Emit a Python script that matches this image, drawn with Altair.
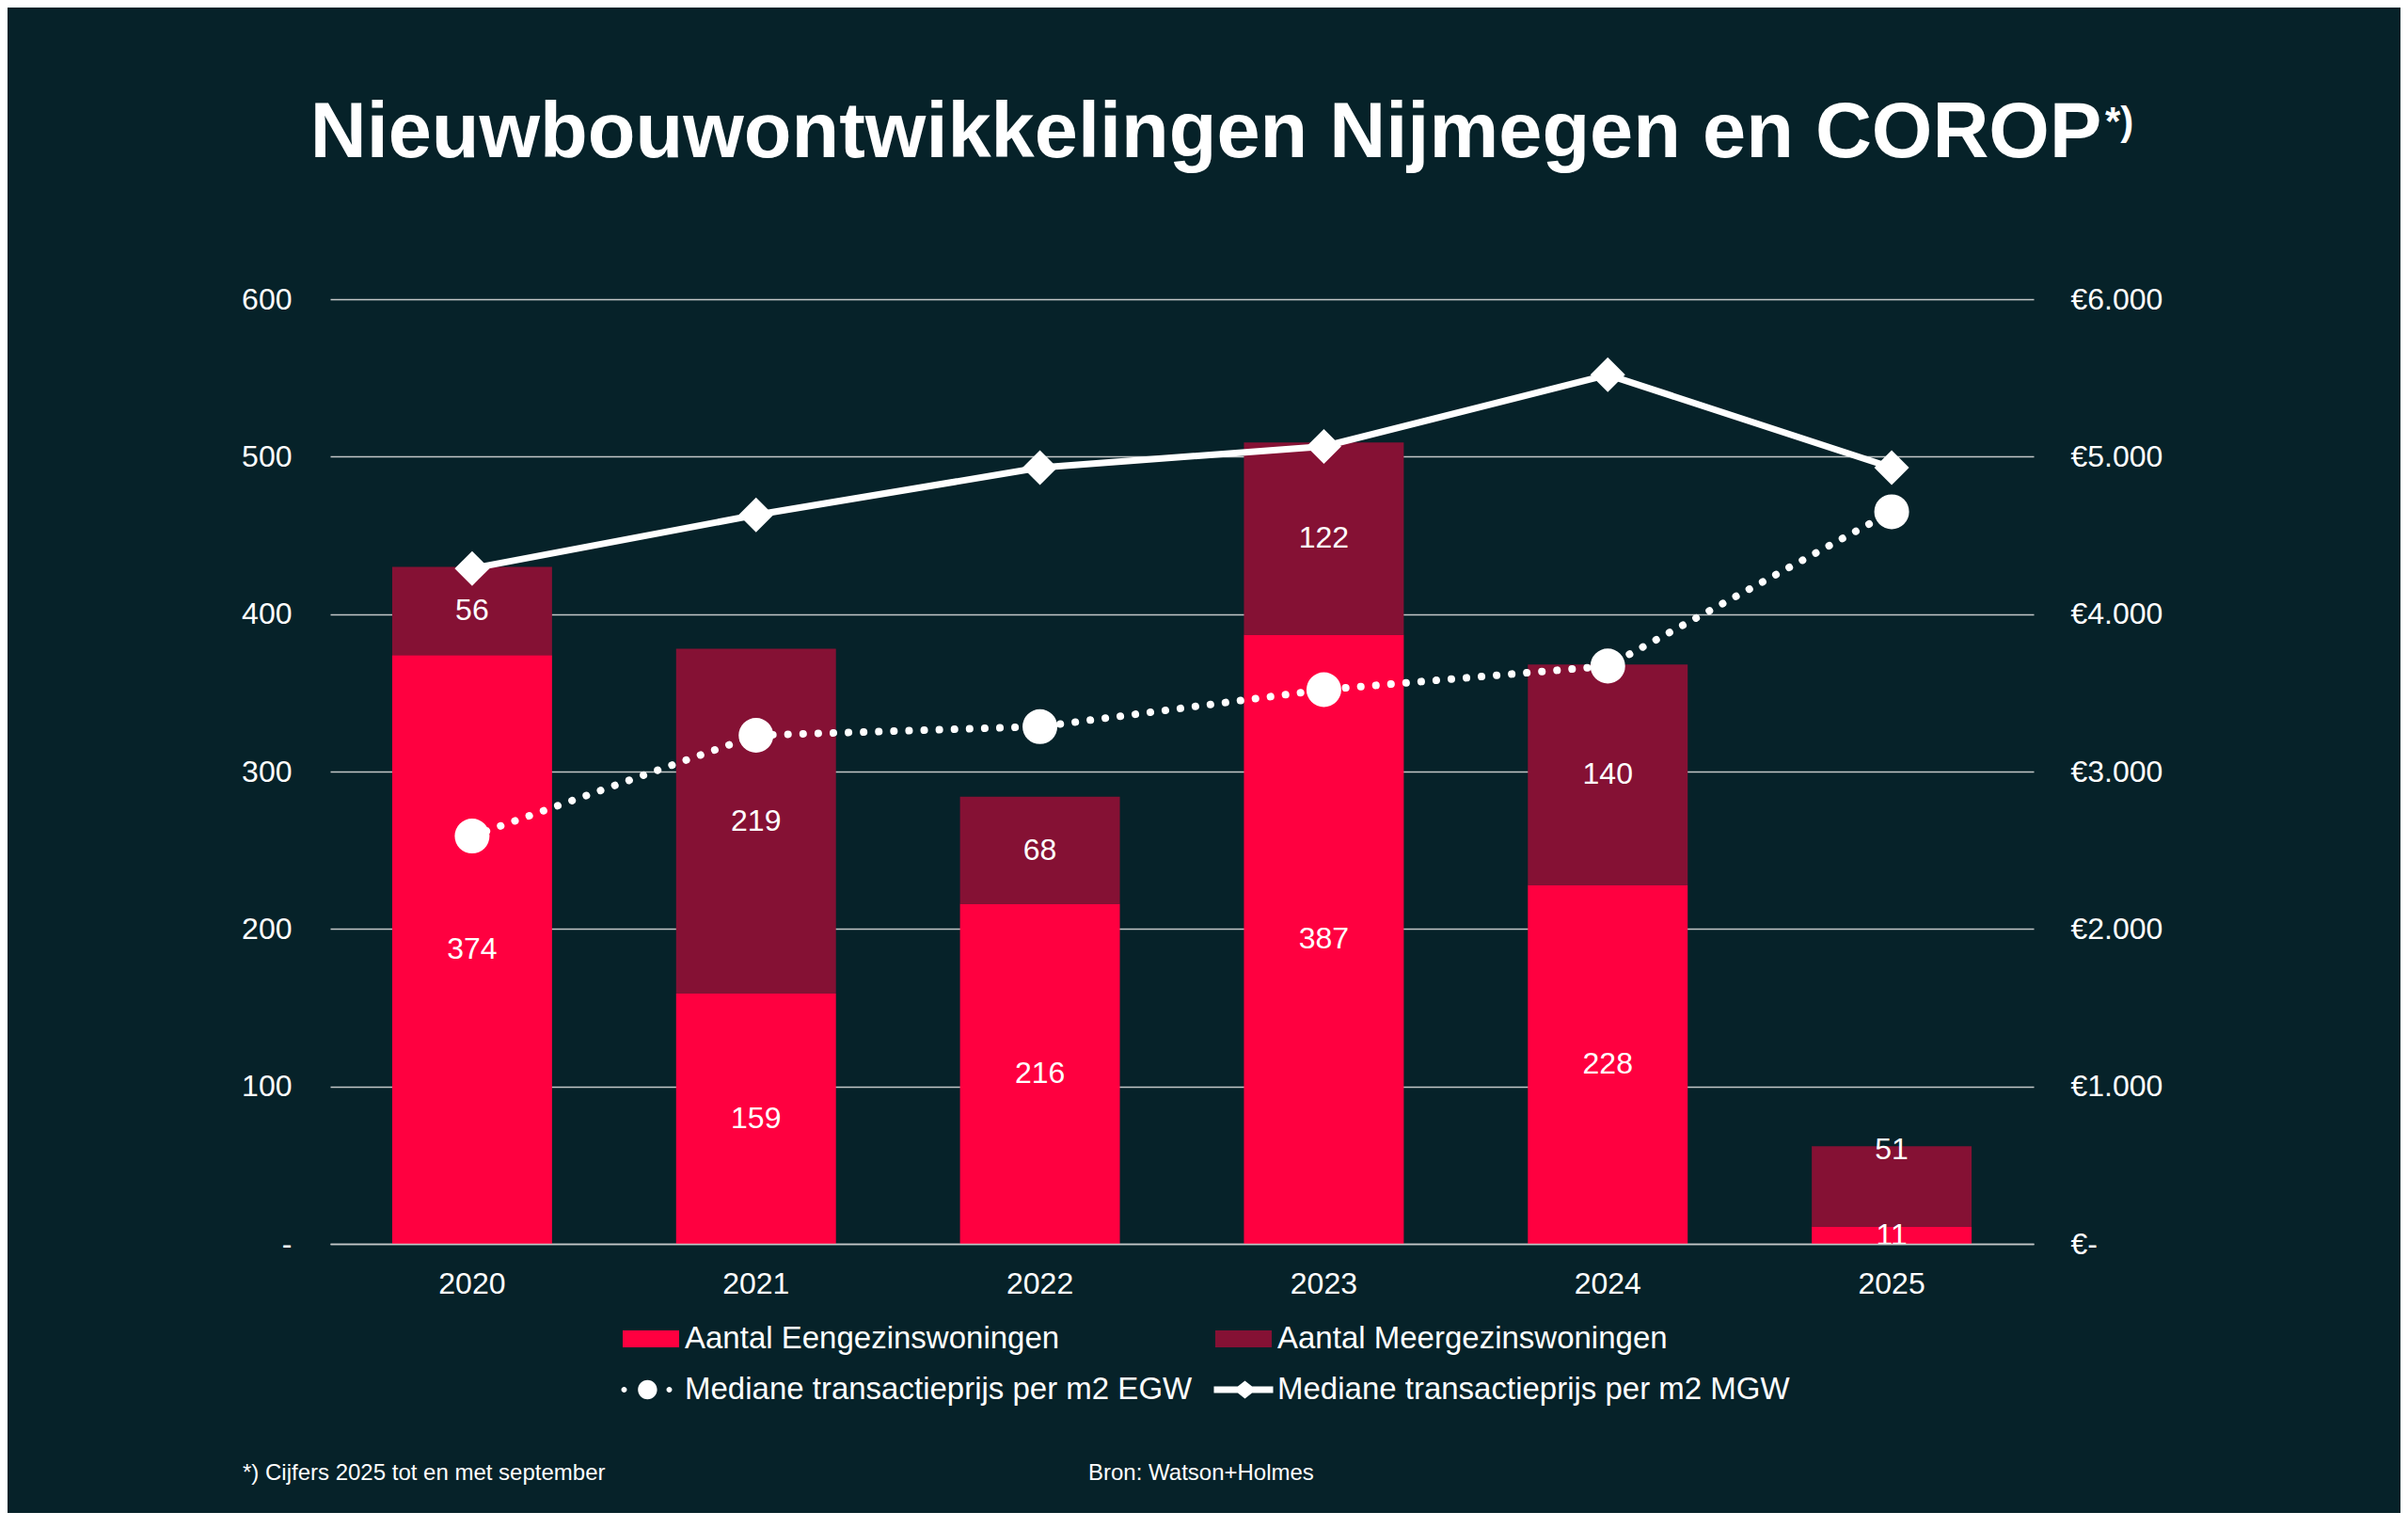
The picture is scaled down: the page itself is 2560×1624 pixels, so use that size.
import altair as alt
import pandas as pd

# ---------------- data ----------------
years = ["2020", "2021", "2022", "2023", "2024", "2025"]
egw_count = [374, 159, 216, 387, 228, 11]
mgw_count = [56, 219, 68, 122, 140, 51]
egw_price = [2590, 3230, 3285, 3520, 3670, 4650]
mgw_price = [4290, 4630, 4930, 5065, 5520, 4930]

series_names = [
    "Aantal Eengezinswoningen",
    "Aantal Meergezinswoningen",
    "Mediane transactieprijs per m2 EGW",
    "Mediane transactieprijs per m2 MGW",
]
left_ticks = [0, 100, 200, 300, 400, 500, 600]
right_ticks = [0, 1000, 2000, 3000, 4000, 5000, 6000]

title_text = "Nieuwbouwontwikkelingen Nijmegen en COROP"
title_sup = "*)"
footnote_text = "*) Cijfers 2025 tot en met september"
source_text = "Bron: Watson+Holmes"

# ---------------- style ----------------
BG = "#062229"
RED = "#FF0040"
DARK = "#851134"
WHITE = "#FFFFFF"
GRID = "#c3c7c8"
FONT = "Liberation Sans"

legend_colors = [RED, DARK, WHITE, WHITE]
# custom legend symbols (unit coords, symbol spans -1..1)
rect_path = "M-1,-0.3L1,-0.3L1,0.3L-1,0.3Z"


def circ(cx, r):
    return (f"M{cx - r},0A{r},{r} 0 1,1 {cx + r},0A{r},{r} 0 1,1 {cx - r},0Z")


egw_path = circ(-0.95, 0.1) + circ(-0.12, 0.34) + circ(0.65, 0.1)
mgw_path = ("M-1.05,-0.12L1.05,-0.12L1.05,0.12L-1.05,0.12Z"
            "M0.05,-0.32L0.45,0L0.05,0.32L-0.35,0Z")
legend_shapes = [rect_path, rect_path, egw_path, mgw_path]

W, H = 1811, 1004

# ---------------- tables ----------------
e_df = pd.DataFrame({"year": years, "start": [0] * 6, "end": egw_count})
m_df = pd.DataFrame({
    "year": years,
    "start": egw_count,
    "end": [e + m for e, m in zip(egw_count, mgw_count)],
})
lab_df = pd.DataFrame({
    "year": years * 2,
    "label": [str(v) for v in egw_count] + [str(v) for v in mgw_count],
    "pos": [e / 2 for e in egw_count]
    + [(e + m / 2) if e >= 20 else (e + m - 2.5) for e, m in zip(egw_count, mgw_count)],
})
price_df = pd.DataFrame({"year": years, "egw": egw_price, "mgw": mgw_price})
legend_df = pd.DataFrame({"serie": series_names})

xscale = alt.Scale(type="band", paddingInner=0.437, paddingOuter=0.2185)
x_axis = alt.Axis(
    title=None, labelFontSize=32, labelColor=WHITE, labelFont=FONT, ticks=False,
    tickSize=0, domain=True, domainColor=GRID, domainWidth=1.5, labelPadding=27,
    labelAngle=0, grid=False, zindex=1,
)
X = alt.X("year:N", scale=xscale, axis=x_axis, sort=years)

yl_scale = alt.Scale(domain=[0, 600], nice=False)
yl_axis = alt.Axis(
    title=None, values=left_ticks, orient="left", grid=True, gridColor=GRID,
    gridWidth=1.5, gridOpacity=1, ticks=False, tickSize=0, domain=False,
    labelFontSize=32, labelColor=WHITE, labelFont=FONT, labelPadding=41,
    labelExpr="datum.value == 0 ? '-\u2007\u2007' : format(datum.value, 'd')",
)
yr_scale = alt.Scale(domain=[0, 6000], nice=False)
yr_axis = alt.Axis(
    title=None, values=right_ticks, orient="right", grid=False, ticks=False,
    tickSize=0, domain=False, labelFontSize=32, labelColor=WHITE, labelFont=FONT,
    labelPadding=39, labelAlign="left",
    labelExpr="datum.value == 0 ? '€-' : '€' + replace(format(datum.value, ',d'), ',', '.')",
)

bars_e = alt.Chart(e_df).mark_bar(color=RED).encode(
    x=X, y=alt.Y("start:Q", scale=yl_scale, axis=yl_axis), y2="end:Q")
bars_m = alt.Chart(m_df).mark_bar(color=DARK).encode(
    x=X, y=alt.Y("start:Q", scale=yl_scale, axis=yl_axis), y2="end:Q")
bar_labels = alt.Chart(lab_df).mark_text(
    color=WHITE, fontSize=32, font=FONT, align="center", baseline="middle"
).encode(x=X, y=alt.Y("pos:Q", scale=yl_scale, axis=yl_axis), text="label:N")

count_layer = alt.layer(bars_e, bars_m, bar_labels)

mgw_line = alt.Chart(price_df).mark_line(color=WHITE, strokeWidth=7).encode(
    x=X, y=alt.Y("mgw:Q", scale=yr_scale, axis=yr_axis))
mgw_pts = alt.Chart(price_df).mark_point(
    shape="diamond", filled=True, size=1370, opacity=1, color=WHITE, strokeWidth=0
).encode(x=X, y=alt.Y("mgw:Q", scale=yr_scale, axis=yr_axis))
egw_line = alt.Chart(price_df).mark_line(
    color=WHITE, strokeWidth=8, strokeDash=[0.1, 16], strokeCap="round"
).encode(x=X, y=alt.Y("egw:Q", scale=yr_scale, axis=yr_axis))
egw_pts = alt.Chart(price_df).mark_point(
    shape="circle", filled=True, size=1370, opacity=1, color=WHITE, strokeWidth=0
).encode(x=X, y=alt.Y("egw:Q", scale=yr_scale, axis=yr_axis))

price_layer = alt.layer(mgw_line, egw_line, mgw_pts, egw_pts)

leg = dict(
    title=None, orient="none", legendX=311, legendY=1075, direction="horizontal",
    columns=2, labelFontSize=33, labelColor=WHITE, labelFont=FONT, labelLimit=1200,
    labelOffset=6, symbolSize=3600, symbolStrokeWidth=0, symbolOpacity=1,
    rowPadding=7, columnPadding=22, padding=0,
)
legend_layer = alt.Chart(legend_df).transform_filter("false").mark_point(
    filled=True, opacity=1, size=3600, strokeWidth=0
).encode(
    color=alt.Color("serie:N", scale=alt.Scale(domain=series_names, range=legend_colors),
                    legend=alt.Legend(**leg)),
    shape=alt.Shape("serie:N", scale=alt.Scale(domain=series_names, range=legend_shapes),
                    legend=alt.Legend(**leg)),
)


def txt(s, x, y, size, weight="normal", align="left"):
    return alt.Chart(pd.DataFrame({"t": [s]})).mark_text(
        color=WHITE, fontSize=size, font=FONT, fontWeight=weight, align=align,
        baseline="alphabetic",
    ).encode(text="t:N", x=alt.value(x), y=alt.value(y))


texts = alt.layer(
    txt(title_text, 931, -151, 83, "bold", "center"),
    txt(title_sup, 1887, -175, 42, "bold", "left"),
    txt(footnote_text, -93, 1255, 24),
    txt(source_text, 806, 1255, 24),
)

chart = alt.layer(count_layer, price_layer, legend_layer, texts).resolve_scale(
    y="independent"
).properties(
    width=W, height=H,
    autosize=alt.AutoSizeParams(type="none"),
    padding={"left": 343, "top": 310, "right": 390, "bottom": 286},
    background=BG,
).configure_view(stroke=None)

chart.save("out.html", embed_options={"renderer": "svg", "actions": False})
